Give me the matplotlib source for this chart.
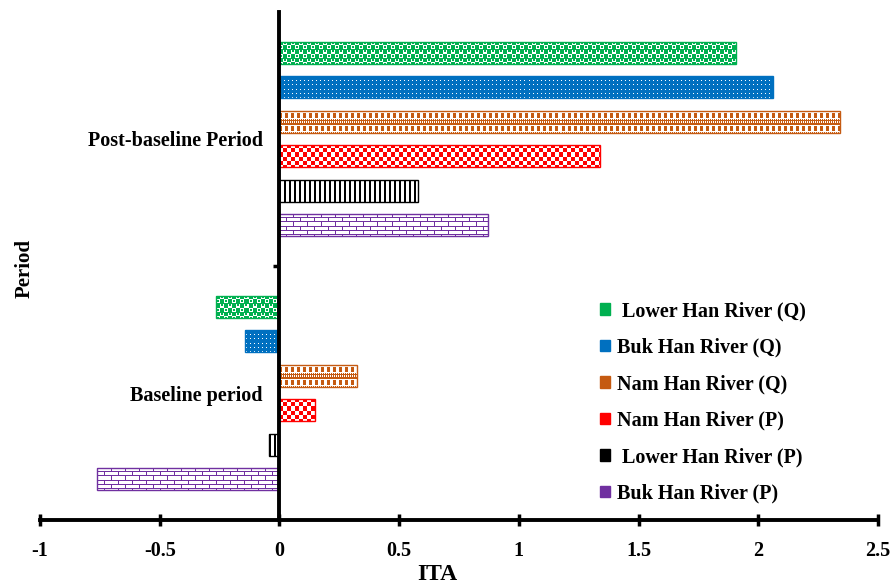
import numpy as np
import matplotlib
matplotlib.use("Agg")
import matplotlib.pyplot as plt
from matplotlib.patches import Patch
from matplotlib.colors import to_rgb

# ---- data ----
periods = ["Baseline period", "Post-baseline Period"]
series = ["Buk Han River (P)", " Lower Han River (P)", "Nam Han River (P)",
          "Nam Han River (Q)", "Buk Han River (Q)", " Lower Han River (Q)"]
colors = ["#7030A0", "#000000", "#FF0000", "#C55A11", "#0070C0", "#00B050"]
baseline_vals = [-0.76, -0.045, 0.15, 0.325, -0.145, -0.265]
post_vals = [0.87, 0.58, 1.34, 2.34, 2.06, 1.905]
xticks = [-1, -0.5, 0, 0.5, 1, 1.5, 2, 2.5]
xticklabels = ["-1", "-0.5", "0", "0.5", "1", "1.5", "2", "2.5"]

plt.rcParams['font.family'] = ['Liberation Serif', 'DejaVu Serif']
plt.rcParams['font.weight'] = 'bold'

fig = plt.figure(figsize=(8.94, 5.83), dpi=100)
ax = fig.add_axes([40/894, 63/583, (878-40)/894, (520-12)/583])
ax.set_xlim(-1, 2.5)
ax.set_ylim(-0.5, 1.5)

# pattern tiles (1 = colour, 0 = white)
def checker(n):
    t = np.zeros((2*n, 2*n), int); t[:n, :n] = 1; t[n:, n:] = 1
    return t

def tile_purple():
    t = np.zeros((8, 14), int)
    t[0, :] = 1; t[4, :] = 1
    t[0:4, 0] = 1; t[4:8, 7] = 1
    return t

def tile_black():
    t = np.zeros((1, 5), int); t[0, 0:2] = 1
    return t

def tile_blue():
    t = np.ones((4, 4), int); t[1, 1] = 0
    return t

def tile_orange():
    t = np.zeros((12, 6), int)
    t[0:2, :] = 1
    t[3:8, 0:3] = 1
    t[9:12, ::2] = 1
    t[10, 1::2] = 1
    return t

def tile_green():
    t = np.zeros((8, 8), int)
    t[0:4, 0:4] = 1; t[4:8, 4:8] = 1
    t[1:3, 5:7] = 1; t[5:7, 1:3] = 1
    t[0, :] = 1
    return t

tiles = [tile_purple(), tile_black(), checker(4), tile_orange(), tile_blue(), tile_green()]

ys = np.arange(len(periods))
off = 0.136
h = 0.087
n = len(series)

def fill_pattern(rect, tile, color):
    x0, y0 = rect.get_x(), rect.get_y()
    w, hh = rect.get_width(), rect.get_height()
    xa, xb = sorted([x0, x0 + w])
    ya, yb = sorted([y0, y0 + hh])
    p0 = ax.transData.transform((xa, ya)); p1 = ax.transData.transform((xb, yb))
    npx = max(1, int(round(p1[0] - p0[0]))); npy = max(1, int(round(p1[1] - p0[1])))
    reps = (npy // tile.shape[0] + 2, npx // tile.shape[1] + 2)
    arr = np.tile(tile, reps)[:npy, :npx]
    rgba = np.ones((npy, npx, 4))
    rgba[arr == 1, :3] = to_rgb(color)
    im = ax.imshow(rgba, extent=(xa, xb, ya, yb), origin='upper',
                   interpolation='nearest', aspect='auto', zorder=2)
    im.set_clip_path(rect)

for i in range(n):
    vals = [baseline_vals[i], post_vals[i]]
    bars = ax.barh(ys + (i - (n - 1) / 2) * off, vals, height=h,
                   facecolor='none', edgecolor=colors[i], linewidth=1.0, zorder=3)
    for b in bars:
        fill_pattern(b, tiles[i], colors[i])

ax.set_xlim(-1, 2.5)
ax.set_ylim(-0.5, 1.5)

# spines
for s in ['top', 'right']:
    ax.spines[s].set_visible(False)
ax.spines['left'].set_position(('data', 0))
ax.spines['left'].set_linewidth(2.8)
ax.spines['bottom'].set_linewidth(2.8)
ax.spines['left'].set_zorder(5)

ax.set_xticks(xticks)
ax.set_xticklabels(xticklabels, fontsize=14.5, fontweight='bold')
ax.tick_params(axis='x', direction='inout', length=8, width=2.5, pad=11)

ax.set_yticks([0.5])
ax.set_yticklabels([])
ax.tick_params(axis='y', which='major', direction='out', length=4, width=2.5)
ax.set_yticks(ys, minor=True)
ax.set_yticklabels(periods, minor=True, fontsize=14.5, fontweight='bold')
ax.tick_params(axis='y', which='minor', length=0, pad=12)

fig.text(25/894, 1 - 268/583, "Period", rotation=90, ha='center', va='center',
         fontsize=15, fontweight='bold')
fig.text(437/894, 1 - 574/583, "ITA", ha='center', va='center',
         fontsize=17, fontweight='bold')

handles = [Patch(facecolor=colors[i], edgecolor=colors[i], label=series[i])
           for i in range(n - 1, -1, -1)]
fig.legend(handles=handles, loc='upper left', bbox_to_anchor=(582/894, 1 - 283/583),
           frameon=False, handlelength=0.5, handleheight=0.5, handletextpad=0.35,
           labelspacing=0.82, prop={'size': 14.5, 'weight': 'bold'})

fig.savefig("out.png", dpi=100)
